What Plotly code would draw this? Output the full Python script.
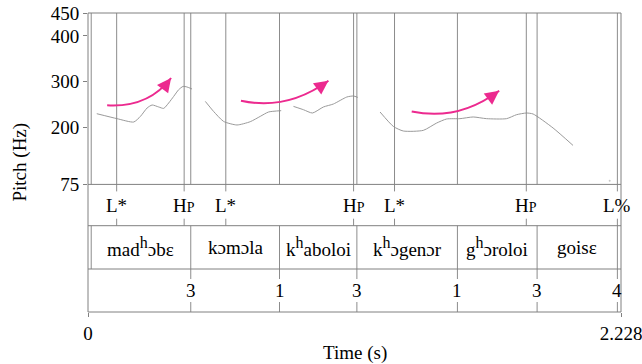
import plotly.graph_objects as go

# ---------------- data ----------------
T_MAX = 2.228
F_MIN, F_MAX = 75, 450
y_ticks = [75, 200, 300, 400, 450]

# pitch contour segments (time s, Hz)
seg1_t = [0.0367, 0.1215, 0.1912, 0.2191, 0.2471, 0.2680, 0.2955, 0.3164, 0.3372, 0.3581, 0.3790, 0.3973, 0.4140, 0.4349]
seg1_f = [229.7, 218.8, 211.5, 223.8, 242.2, 248.7, 244.4, 241.3, 253.1, 267.5, 282.2, 289.4, 288.1, 283.7]
seg2_t = [0.4904, 0.5250, 0.5668, 0.6227, 0.6782, 0.7200, 0.7546, 0.8076]
seg2_f = [256.6, 234.7, 212.8, 205.0, 212.2, 223.8, 233.4, 236.3]
seg3_t = [0.8589, 0.9007, 0.9382, 0.9841, 1.0259, 1.0818, 1.1093, 1.1277]
seg3_f = [245.7, 238.4, 231.2, 244.4, 250.9, 266.2, 268.4, 265.4]
seg4_t = [1.2208, 1.2763, 1.3180, 1.4015, 1.4574, 1.4991, 1.5547, 1.6102, 1.6661, 1.7496, 1.7913, 1.8331, 1.8606, 1.9441, 2.0275]
seg4_f = [233.4, 201.9, 191.8, 193.2, 209.3, 218.1, 218.8, 222.5, 218.8, 218.8, 227.5, 231.2, 229.0, 198.4, 160.3]
stray_t = [2.1807]
stray_f = [83.1]

# tone tier (points)
tone_t = [0.1198, 0.4019, 0.5760, 1.1102, 1.2813, 1.8322, 2.2129]
tone_lab = ["L*", "HP", "L*", "HP", "L*", "HP", "L%"]

# word tier (intervals)
word_bounds = [0.0134, 0.4295, 0.8005, 1.1240, 1.5442, 1.8773, 2.2129]
word_lab = ["mad<sup>h</sup>ɔbɛ", "kɔmɔla", "k<sup>h</sup>aboloi",
            "k<sup>h</sup>ɔgenɔr", "g<sup>h</sup>ɔroloi", "goisɛ"]

# break tier (points)
break_t = [0.4295, 0.8005, 1.1240, 1.5442, 1.8773, 2.2129]
break_lab = ["3", "1", "3", "1", "3", "4"]

# rising arrows (start, control, tip) in time/Hz
arr_t0 = [0.0801, 0.6394, 1.3531]
arr_f0 = [247.9, 258.1, 234.7]
arr_tc = [0.2525, 0.8326, 1.5463]
arr_fc = [242.8, 236.3, 212.8]
arr_t1 = [0.3472, 1.0050, 1.7187]
arr_f1 = [307.8, 301.9, 280.0]

# ---------------- layout constants ----------------
W, H = 642, 364
L, R, T, B = 87.5, 20.7, 13.3, 51.7
ph = H - T - B
def py(pix):  # pixel row -> paper y
    return (H - B - pix) / ph

pitch_bot = py(184.7)
tier12 = py(226.0)
tier23 = py(269.3)
tone_mid = py(205.3)
word_mid = py(247.7)
break_mid = py(290.7)
tick_tone = 7 / ph
tick_break = 10 / ph

FONT = "Liberation Serif"
FRAME = "#808080"
VLINE = "#8c8c8c"
PINK = "#EC2A8F"

fig = go.Figure()
for st, sf in [(seg1_t, seg1_f), (seg2_t, seg2_f), (seg3_t, seg3_f), (seg4_t, seg4_f)]:
    fig.add_trace(go.Scatter(x=st, y=sf, mode="lines", line=dict(color="#9a9a9a", width=1, shape="spline", smoothing=0.6),
                             hoverinfo="skip", showlegend=False))
fig.add_trace(go.Scatter(x=stray_t, y=stray_f, mode="markers", marker=dict(color="#c8c8c8", size=2),
                         hoverinfo="skip", showlegend=False))

shapes = []
def vline(x, y0, y1, color=VLINE):
    shapes.append(dict(type="line", xref="x", yref="paper", x0=x, x1=x, y0=y0, y1=y1,
                       line=dict(color=color, width=1), layer="above"))

for t in sorted(set(tone_t + word_bounds + break_t)):
    vline(t, pitch_bot, 1)
for t in word_bounds:
    vline(t, tier23, tier12)
for t in tone_t:
    vline(t, pitch_bot - tick_tone, pitch_bot)
    vline(t, tier12, tier12 + tick_tone)
for t in break_t:
    vline(t, tier23 - tick_break, tier23)
    vline(t, 0, tick_break)

shapes.append(dict(type="rect", xref="paper", yref="paper", x0=0, x1=1, y0=0, y1=1,
                   line=dict(color=FRAME, width=1), layer="above"))
for yy in [pitch_bot, tier12, tier23]:
    shapes.append(dict(type="line", xref="paper", yref="paper", x0=0, x1=1, y0=yy, y1=yy,
                       line=dict(color=FRAME, width=1), layer="above"))

for a0, b0, ac, bc, a1, b1 in zip(arr_t0, arr_f0, arr_tc, arr_fc, arr_t1, arr_f1):
    shapes.append(dict(type="path", xref="x", yref="y",
                       path=f"M {a0},{b0} Q {ac},{bc} {a1},{b1}",
                       line=dict(color=PINK, width=2), layer="above"))

annotations = []
for a0, b0, ac, bc, a1, b1 in zip(arr_t0, arr_f0, arr_tc, arr_fc, arr_t1, arr_f1):
    annotations.append(dict(x=a1, y=b1, xref="x", yref="y",
                            ax=a1 - 0.25 * (a1 - ac), ay=b1 - 0.25 * (b1 - bc), axref="x", ayref="y",
                            text="", showarrow=True, arrowhead=2, arrowsize=1.4, arrowwidth=2,
                            arrowcolor=PINK, standoff=0))

def txt(x, y, s):
    return dict(x=x, y=y, xref="x", yref="paper", text=s, showarrow=False,
                xanchor="center", yanchor="middle", font=dict(family=FONT, size=19, color="black"))

for t, s in zip(tone_t, tone_lab):
    if s == "HP":
        s = "H<span style='font-size:14px'>P</span>"
    annotations.append(txt(t, tone_mid, s))
for i, s in enumerate(word_lab):
    s = s.replace("<sup>h</sup>", "<sup><span style='font-size:16px'>h</span></sup>")
    annotations.append(txt((word_bounds[i] + word_bounds[i + 1]) / 2, word_mid, s))
for t, s in zip(break_t, break_lab):
    annotations.append(txt(t, break_mid, s))

annotations.append(dict(x=(19.5 - L) / (W - L - R), y=py(162.7), xref="paper", yref="paper",
                        text="Pitch (Hz)", textangle=-90, showarrow=False,
                        xanchor="center", yanchor="middle",
                        font=dict(family=FONT, size=19, color="black")))
annotations.append(dict(x=0.5, y=py(353), xref="paper", yref="paper", text="Time (s)",
                        showarrow=False, xanchor="center", yanchor="middle",
                        font=dict(family=FONT, size=19, color="black")))

fig.update_layout(
    width=W, height=H, margin=dict(l=L, r=R, t=T, b=B, pad=0, autoexpand=False),
    paper_bgcolor="white", plot_bgcolor="white",
    shapes=shapes, annotations=annotations, showlegend=False,
    font=dict(family=FONT, size=19, color="black"),
    xaxis=dict(range=[0, T_MAX], domain=[0, 1], anchor="free", position=0, automargin=False,
               showline=False, showgrid=False, zeroline=False, ticklabeloverflow="allow",
               tickmode="array", tickvals=[0, T_MAX], ticktext=["0", "2.228"],
               ticks="outside", ticklen=4, tickcolor=FRAME, tickwidth=1,
               tickfont=dict(family=FONT, size=19, color="black")),
    yaxis=dict(range=[F_MIN, F_MAX], domain=[pitch_bot, 1], automargin=False,
               showline=False, showgrid=False, zeroline=False, ticklabeloverflow="allow",
               tickmode="array", tickvals=y_ticks, ticktext=[str(v) for v in y_ticks],
               ticks="outside", ticklen=4, tickcolor=FRAME, tickwidth=1,
               tickfont=dict(family=FONT, size=19, color="black")),
)
fig.write_html("out.html", config={"displayModeBar": False},
               post_script="document.body.style.margin='0';document.body.style.overflow='hidden';")
